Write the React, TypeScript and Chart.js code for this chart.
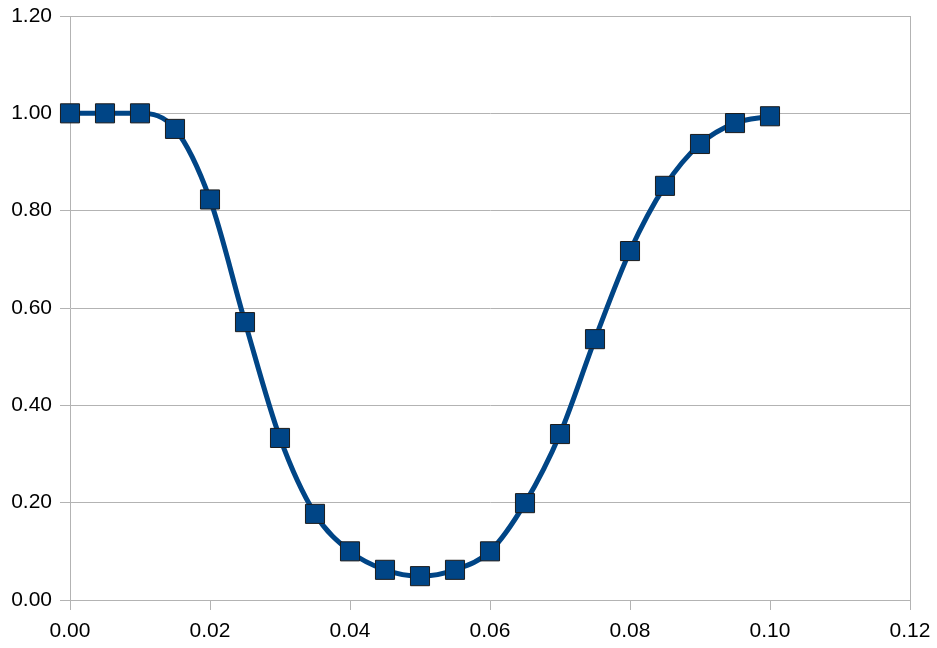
import React, { useEffect, useRef } from "react";
import { Chart, registerables } from "chart.js";

Chart.register(...registerables);

const xValues = [0, 0.005, 0.01, 0.015, 0.02, 0.025, 0.03, 0.035, 0.04, 0.045, 0.05, 0.055, 0.06, 0.065, 0.07, 0.075, 0.08, 0.085, 0.09, 0.095, 0.1];
const yValues = [1.0, 1.0, 1.0, 0.968, 0.823, 0.571, 0.333, 0.177, 0.1, 0.062, 0.049, 0.062, 0.1, 0.199, 0.341, 0.536, 0.717, 0.851, 0.937, 0.98, 0.994];

const GRID = "#b3b3b3";
const BLUE = "#004586";

export default function App() {
  const ref = useRef<HTMLCanvasElement>(null);
  useEffect(() => {
    document.body.style.margin = "0";
    const ctx = ref.current!;
    const chart = new Chart(ctx, {
      type: "line",
      data: {
        datasets: [
          {
            data: xValues.map((x, i) => ({ x, y: yValues[i] })),
            borderColor: BLUE,
            borderWidth: 5,
            backgroundColor: BLUE,
            pointStyle: "rect",
            pointRadius: 13.5,
            pointHoverRadius: 13.5,
            pointBackgroundColor: BLUE,
            pointBorderColor: "#1c1c1c",
            pointBorderWidth: 1,
            cubicInterpolationMode: "monotone",
            fill: false,
            clip: false,
          },
        ],
      },
      options: {
        animation: false,
        responsive: false,
        maintainAspectRatio: false,
        layout: { padding: { left: 0, top: 16, right: 27, bottom: 0 } },
        plugins: { legend: { display: false }, tooltip: { enabled: false } },
        scales: {
          x: {
            type: "linear",
            min: 0,
            max: 0.12,
            ticks: {
              stepSize: 0.02,
              color: "#000",
              font: { family: "Liberation Sans, Arial", size: 21 },
              padding: 9,
              callback: (v: any) => Number(v).toFixed(2),
            },
            grid: {
              color: (c: any) => (c.tick && Math.abs(c.tick.value - 0.12) < 1e-9 ? GRID : "rgba(0,0,0,0)"),
              tickColor: GRID,
              tickLength: 10,
              lineWidth: 1,
            },
            border: { display: true, color: GRID },
            afterFit: (s: any) => {
              s.height = 48;
              s.paddingLeft = 0;
              s.paddingRight = 0;
            },
          },
          y: {
            min: 0,
            max: 1.2,
            ticks: {
              stepSize: 0.2,
              color: "#000",
              font: { family: "Liberation Sans, Arial", size: 21 },
              padding: 8,
              callback: (v: any) => Number(v).toFixed(2),
            },
            grid: { color: GRID, tickColor: GRID, tickLength: 10, lineWidth: 1 },
            border: { display: true, color: GRID },
            afterFit: (s: any) => {
              s.width = 70;
              s.paddingTop = 0;
              s.paddingBottom = 0;
            },
          },
        },
      },
    });
    return () => chart.destroy();
  }, []);
  return (
    <div style={{ width: 937, height: 648, background: "#fff" }}>
      <canvas ref={ref} width={937} height={648} style={{ display: "block" }} />
    </div>
  );
}
